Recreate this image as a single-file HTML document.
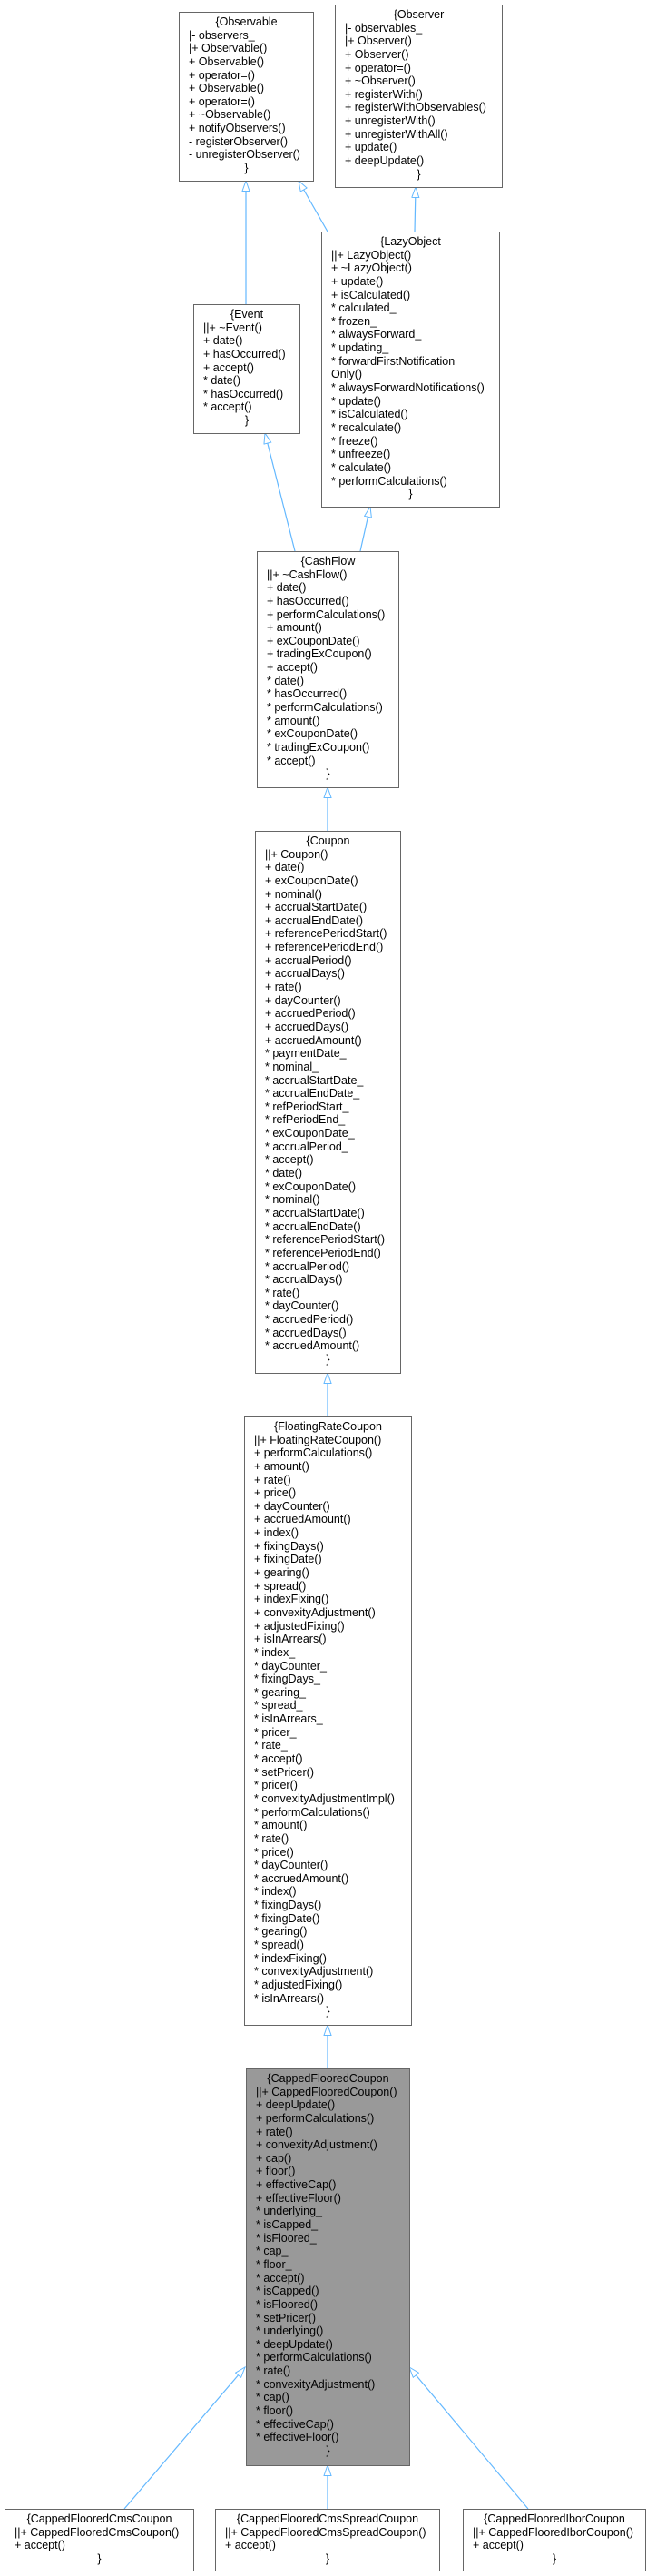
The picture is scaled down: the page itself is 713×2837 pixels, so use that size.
<!DOCTYPE html>
<html><head><meta charset="utf-8"><style>
html,body{margin:0;padding:0;background:#fff;}
body{width:713px;height:2837px;position:relative;overflow:hidden;font-family:"Liberation Sans",Arial,sans-serif;font-size:12.5px;color:#000;}
.b{position:absolute;box-sizing:border-box;border:1px solid #666;background:#fff;padding:3px 0 0 10px;line-height:14.65px;white-space:pre;}
.b div{height:14.65px;}
.b .c{text-align:center;margin-left:-10px;}
.g{background:#999;}
svg{position:absolute;left:0;top:0;}
</style></head><body>
<svg width="713" height="2837">
<defs><marker id="a" markerUnits="userSpaceOnUse" markerWidth="14" markerHeight="10" refX="12" refY="4.5" orient="auto"><path d="M0.5,0.5 L12,4.5 L0.5,8.5 z" fill="#fff" stroke="#63b8ff" stroke-width="1"/></marker></defs>
<g stroke="#63b8ff" stroke-width="1.2" fill="none" marker-end="url(#a)">
<path d="M271,335 L271,199"/>
<path d="M361,255 L329,199"/>
<path d="M457,255 L458,206"/>
<path d="M325,607 L292,477"/>
<path d="M397,607 L408,558"/>
<path d="M361,915 L361,867"/>
<path d="M361,1560 L361,1512"/>
<path d="M361,2278 L361,2230"/>
<path d="M137,2763 L270,2607"/>
<path d="M361,2763 L361,2715"/>
<path d="M582,2763 L451,2607"/>
</g></svg>

<div class="b" style="left:197px;top:13px;width:149px;height:187px;"><div class="c">{Observable</div><div>|- observers_</div><div>|+ Observable()</div><div>+ Observable()</div><div>+ operator=()</div><div>+ Observable()</div><div>+ operator=()</div><div>+ ~Observable()</div><div>+ notifyObservers()</div><div>- registerObserver()</div><div>- unregisterObserver()</div><div class="c">}</div></div>

<div class="b" style="left:369px;top:5px;width:185px;height:202px;"><div class="c">{Observer</div><div>|- observables_</div><div>|+ Observer()</div><div>+ Observer()</div><div>+ operator=()</div><div>+ ~Observer()</div><div>+ registerWith()</div><div>+ registerWithObservables()</div><div>+ unregisterWith()</div><div>+ unregisterWithAll()</div><div>+ update()</div><div>+ deepUpdate()</div><div class="c">}</div></div>

<div class="b" style="left:354px;top:255px;width:197px;height:304px;"><div class="c">{LazyObject</div><div>||+ LazyObject()</div><div>+ ~LazyObject()</div><div>+ update()</div><div>+ isCalculated()</div><div>* calculated_</div><div>* frozen_</div><div>* alwaysForward_</div><div>* updating_</div><div>* forwardFirstNotification</div><div>Only()</div><div>* alwaysForwardNotifications()</div><div>* update()</div><div>* isCalculated()</div><div>* recalculate()</div><div>* freeze()</div><div>* unfreeze()</div><div>* calculate()</div><div>* performCalculations()</div><div class="c">}</div></div>

<div class="b" style="left:213px;top:335px;width:118px;height:143px;"><div class="c">{Event</div><div>||+ ~Event()</div><div>+ date()</div><div>+ hasOccurred()</div><div>+ accept()</div><div>* date()</div><div>* hasOccurred()</div><div>* accept()</div><div class="c">}</div></div>

<div class="b" style="left:283px;top:607px;width:157px;height:261px;"><div class="c">{CashFlow</div><div>||+ ~CashFlow()</div><div>+ date()</div><div>+ hasOccurred()</div><div>+ performCalculations()</div><div>+ amount()</div><div>+ exCouponDate()</div><div>+ tradingExCoupon()</div><div>+ accept()</div><div>* date()</div><div>* hasOccurred()</div><div>* performCalculations()</div><div>* amount()</div><div>* exCouponDate()</div><div>* tradingExCoupon()</div><div>* accept()</div><div class="c">}</div></div>

<div class="b" style="left:281px;top:915px;width:161px;height:598px;"><div class="c">{Coupon</div><div>||+ Coupon()</div><div>+ date()</div><div>+ exCouponDate()</div><div>+ nominal()</div><div>+ accrualStartDate()</div><div>+ accrualEndDate()</div><div>+ referencePeriodStart()</div><div>+ referencePeriodEnd()</div><div>+ accrualPeriod()</div><div>+ accrualDays()</div><div>+ rate()</div><div>+ dayCounter()</div><div>+ accruedPeriod()</div><div>+ accruedDays()</div><div>+ accruedAmount()</div><div>* paymentDate_</div><div>* nominal_</div><div>* accrualStartDate_</div><div>* accrualEndDate_</div><div>* refPeriodStart_</div><div>* refPeriodEnd_</div><div>* exCouponDate_</div><div>* accrualPeriod_</div><div>* accept()</div><div>* date()</div><div>* exCouponDate()</div><div>* nominal()</div><div>* accrualStartDate()</div><div>* accrualEndDate()</div><div>* referencePeriodStart()</div><div>* referencePeriodEnd()</div><div>* accrualPeriod()</div><div>* accrualDays()</div><div>* rate()</div><div>* dayCounter()</div><div>* accruedPeriod()</div><div>* accruedDays()</div><div>* accruedAmount()</div><div class="c">}</div></div>

<div class="b" style="left:269px;top:1560px;width:185px;height:671px;"><div class="c">{FloatingRateCoupon</div><div>||+ FloatingRateCoupon()</div><div>+ performCalculations()</div><div>+ amount()</div><div>+ rate()</div><div>+ price()</div><div>+ dayCounter()</div><div>+ accruedAmount()</div><div>+ index()</div><div>+ fixingDays()</div><div>+ fixingDate()</div><div>+ gearing()</div><div>+ spread()</div><div>+ indexFixing()</div><div>+ convexityAdjustment()</div><div>+ adjustedFixing()</div><div>+ isInArrears()</div><div>* index_</div><div>* dayCounter_</div><div>* fixingDays_</div><div>* gearing_</div><div>* spread_</div><div>* isInArrears_</div><div>* pricer_</div><div>* rate_</div><div>* accept()</div><div>* setPricer()</div><div>* pricer()</div><div>* convexityAdjustmentImpl()</div><div>* performCalculations()</div><div>* amount()</div><div>* rate()</div><div>* price()</div><div>* dayCounter()</div><div>* accruedAmount()</div><div>* index()</div><div>* fixingDays()</div><div>* fixingDate()</div><div>* gearing()</div><div>* spread()</div><div>* indexFixing()</div><div>* convexityAdjustment()</div><div>* adjustedFixing()</div><div>* isInArrears()</div><div class="c">}</div></div>

<div class="b g" style="left:271px;top:2278px;width:181px;height:438px;"><div class="c">{CappedFlooredCoupon</div><div>||+ CappedFlooredCoupon()</div><div>+ deepUpdate()</div><div>+ performCalculations()</div><div>+ rate()</div><div>+ convexityAdjustment()</div><div>+ cap()</div><div>+ floor()</div><div>+ effectiveCap()</div><div>+ effectiveFloor()</div><div>* underlying_</div><div>* isCapped_</div><div>* isFloored_</div><div>* cap_</div><div>* floor_</div><div>* accept()</div><div>* isCapped()</div><div>* isFloored()</div><div>* setPricer()</div><div>* underlying()</div><div>* deepUpdate()</div><div>* performCalculations()</div><div>* rate()</div><div>* convexityAdjustment()</div><div>* cap()</div><div>* floor()</div><div>* effectiveCap()</div><div>* effectiveFloor()</div><div class="c">}</div></div>

<div class="b" style="left:5px;top:2763px;width:209px;height:69px;"><div class="c">{CappedFlooredCmsCoupon</div><div>||+ CappedFlooredCmsCoupon()</div><div>+ accept()</div><div class="c">}</div></div>
<div class="b" style="left:237px;top:2763px;width:248px;height:69px;"><div class="c">{CappedFlooredCmsSpreadCoupon</div><div>||+ CappedFlooredCmsSpreadCoupon()</div><div>+ accept()</div><div class="c">}</div></div>
<div class="b" style="left:510px;top:2763px;width:202px;height:69px;"><div class="c">{CappedFlooredIborCoupon</div><div>||+ CappedFlooredIborCoupon()</div><div>+ accept()</div><div class="c">}</div></div>
</body></html>
